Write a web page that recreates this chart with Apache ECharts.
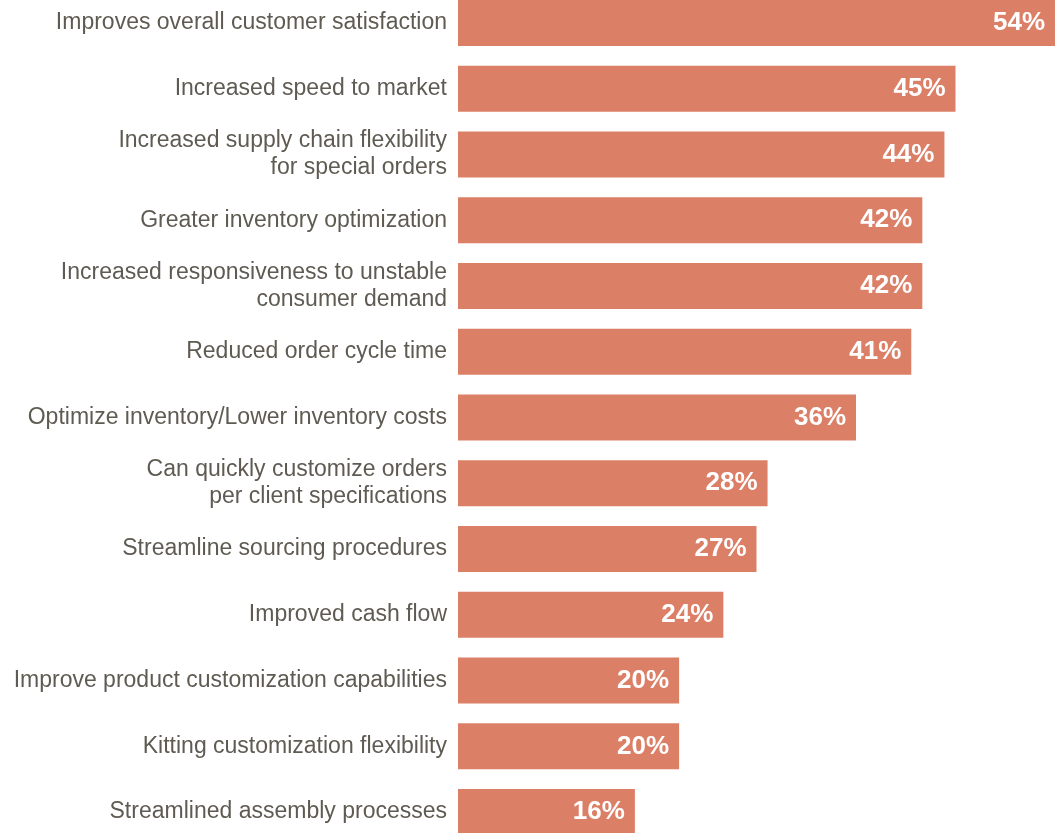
<!DOCTYPE html>
<html>
<head>
<meta charset="utf-8">
<script src="https://cdn.jsdelivr.net/npm/echarts@6/dist/echarts.min.js"></script>
<style>
html,body{margin:0;padding:0;background:#fff;overflow:hidden;width:1055px;height:833px;}
#chart{position:absolute;left:0;top:-10px;width:1055px;height:855px;}
</style>
</head>
<body>
<div id="chart"></div>
<script>
const categories = [
  "Improves overall customer satisfaction",
  "Increased speed to market",
  "Increased supply chain flexibility\nfor special orders",
  "Greater inventory optimization",
  "Increased responsiveness to unstable\nconsumer demand",
  "Reduced order cycle time",
  "Optimize inventory/Lower inventory costs",
  "Can quickly customize orders\nper client specifications",
  "Streamline sourcing procedures",
  "Improved cash flow",
  "Improve product customization capabilities",
  "Kitting customization flexibility",
  "Streamlined assembly processes"
];
const values = [54, 45, 44, 42, 42, 41, 36, 28, 27, 24, 20, 20, 16];

const chart = echarts.init(document.getElementById('chart'));
chart.setOption({
  animation: false,
  grid: { left: 458, right: 0, top: 0, bottom: 0, containLabel: false },
  xAxis: {
    type: 'value', min: 0, max: 54,
    show: false
  },
  yAxis: {
    type: 'category', data: categories, inverse: true,
    axisLine: { show: false }, axisTick: { show: false },
    axisLabel: {
      margin: 11, color: '#5f5b52', fontSize: 23,
      fontFamily: 'Liberation Sans, Arial, sans-serif',
      lineHeight: 27, align: 'right'
    }
  },
  series: [{
    type: 'bar', data: values, barWidth: 46,
    itemStyle: { color: '#dc7f67' },
    label: {
      show: true, position: 'insideRight', distance: 10,
      color: '#ffffff', fontWeight: 'bold', fontSize: 26,
      fontFamily: 'Liberation Sans, Arial, sans-serif',
      formatter: p => p.value + '%'
    }
  }]
});
</script>
</body>
</html>
